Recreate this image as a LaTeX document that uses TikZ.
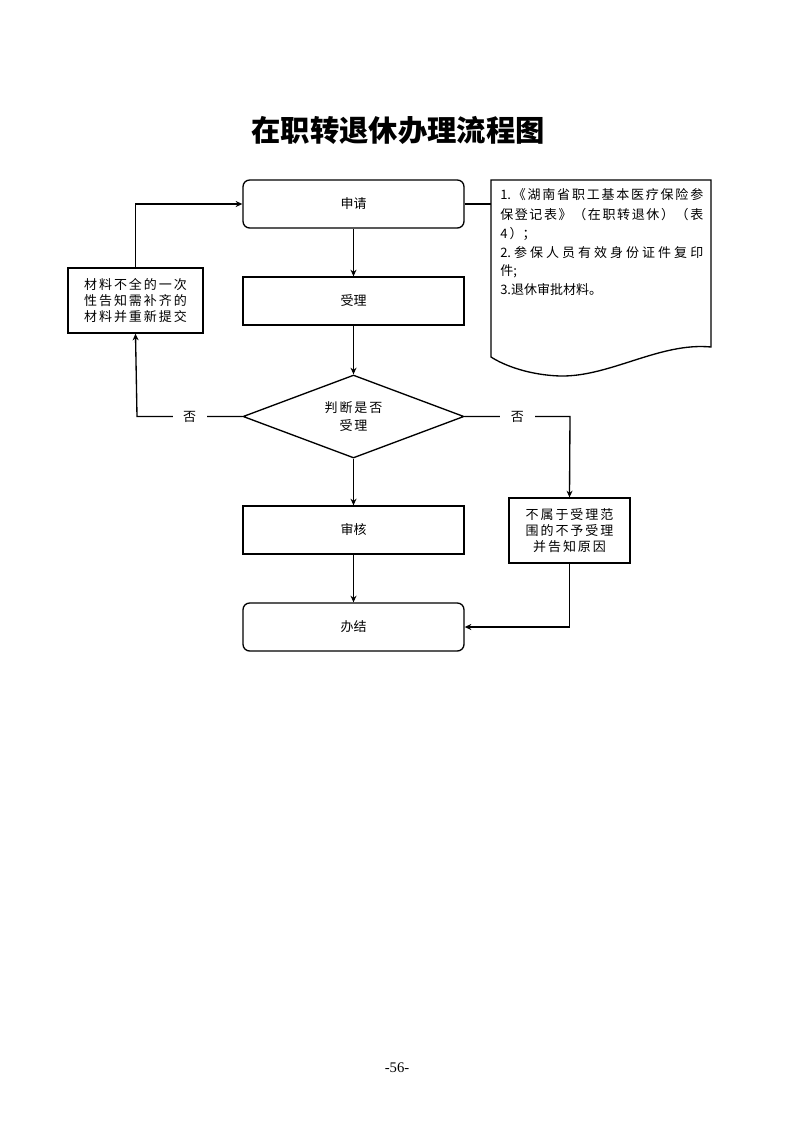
\documentclass[tikz,border=0pt]{standalone}
\usepackage{fontspec}
\setmainfont{Liberation Serif}
\newfontfamily\cjk{Noto Sans CJK SC}
\newfontfamily\cjkls[LetterSpace=15]{Noto Sans CJK SC}
\usetikzlibrary{shapes.geometric,arrows.meta}
\def\spreadline#1{\makebox[152.25pt][s]{\sprfirst#1\relax}}
\def\sprfirst#1{#1\sprrest}
\def\sprrest#1{\ifx#1\relax\else\hfil#1\expandafter\sprrest\fi}
\begin{document}
\begin{tikzpicture}[x=0.75pt,y=-0.75pt,
  line/.style={line width=1pt},
  arr/.style={line width=1pt,-{Stealth[length=5pt,width=4.5pt]}},
  boxbase/.style={draw,line width=1pt,font=\cjk\fontsize{9.75pt}{12pt}\selectfont,inner sep=0pt},
  mainbox/.style={boxbase,minimum width=165.75pt,minimum height=36pt},
  roundbox/.style={mainbox,rounded corners=5pt},
  sidebox/.style={boxbase,minimum height=48.75pt,align=center,font=\cjkls\fontsize{9.75pt}{12pt}\selectfont},
  decision/.style={boxbase,diamond,shape aspect=2.66,minimum width=165.75pt,minimum height=62.25pt,align=center,font=\cjkls\fontsize{9.75pt}{14pt}\selectfont},
  nolabel/.style={fill=white,font=\cjk\fontsize{9.75pt}{12pt}\selectfont,inner xsep=8pt,inner ysep=1pt},
  doctext/.style={anchor=west,inner sep=0pt,font=\cjk\fontsize{9.75pt}{12pt}\selectfont}
]
\useasboundingbox (0,0) rectangle (793,1122);
\fill[white] (0,0) rectangle (793,1122);

% title
\node[font=\cjk\bfseries\fontsize{22pt}{26pt}\selectfont] (title) at (398,130) {在职转退休办理流程图};

% main nodes
\node[roundbox] (apply) at (353.5,204) {申请};
\node[mainbox] (accept) at (353.5,301) {受理};
\node[decision] (judge) at (353.5,416.5) {判断是否\\受理};
\node[mainbox] (review) at (353.5,530) {审核};
\node[roundbox] (finish) at (353.5,627) {办结};

\node[sidebox,minimum width=101.25pt] (resubmit) at (135.5,300.5) {材料不全的一次\\性告知需补齐的\\材料并重新提交};
\node[sidebox,minimum width=90.75pt] (reject) at (569.5,530.5) {不属于受理范\\围的不予受理\\并告知原因};

% document shape
\draw[line] (491,180) -- (711,180) -- (711,347)
  .. controls (660,342) and (610,377) .. (560,376)
  .. controls (530,375) and (505,366) .. (491,357) -- cycle;
\coordinate (docin) at (491,204);
\node[doctext] (d1) at (500,195) {\spreadline{{1.}《湖南省职工基本医疗保险参}};
\node[doctext] (d2) at (500,215) {\spreadline{保登记表》（在职转退休）（表}};
\node[doctext] (d3) at (500,234) {4\,）；};
\node[doctext] (d4) at (500,252.5) {\spreadline{{2.}参保人员有效身份证件复印}};
\node[doctext] (d5) at (500,271) {件;};
\node[doctext] (d6) at (500,290) {3.退休审批材料。};

% page number
\node[font=\fontsize{11pt}{13pt}\selectfont] (page) at (397,1068) {-56-};

% connectors
\draw[line] (apply.east) -- (docin);
\draw[arr] (apply) -- (accept);
\draw[arr] (accept) -- (judge);
\draw[arr] (judge) -- (review);
\draw[arr] (review) -- (finish);
\draw[arr] (judge.west) -- node[nolabel,pos=0.5] {否} (137,416.5) -- (resubmit.south);
\draw[arr] (resubmit.north) |- (apply.west);
\draw[arr] (judge.east) -- node[nolabel,pos=0.5] {否} (570,416.5) -- (reject.north);
\draw[arr] (reject.south) |- (finish.east);
\end{tikzpicture}
\end{document}
